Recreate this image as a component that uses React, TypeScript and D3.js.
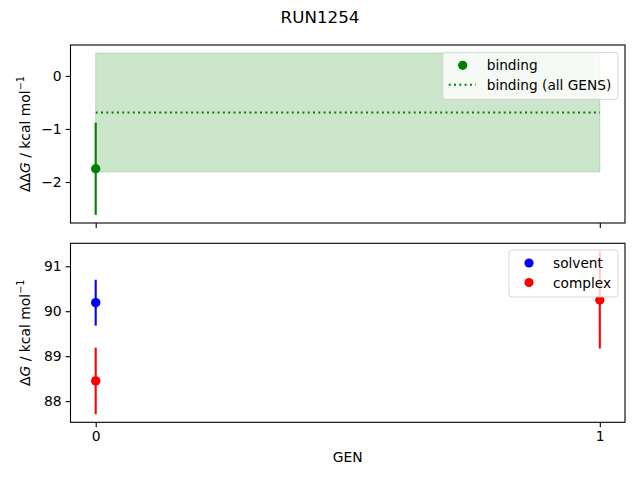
import React, { useRef, useEffect } from "react";
import * as d3 from "d3";

// 데이터
const gens = [0, 1];
const bindingGens = [0];
const bindingValues = [-1.75];
const bindingErrors = [0.87];
const bindingAllValue = -0.69;
const bindingAllError = 1.12;
const solventGens = [0];
const solventValues = [90.19];
const solventErrors = [0.51];
const complexGens = [0, 1];
const complexValues = [88.45, 90.25];
const complexErrors = [0.74, 1.08];

const FONT = "DejaVu Sans, sans-serif";
const W = 640;
const H = 480;

// matplotlib 식 5% 여백
const pad = (lo: number, hi: number): [number, number] => {
  const m = (hi - lo) * 0.05;
  return [lo - m, hi + m];
};

const App = () => {
  const ref = useRef<SVGSVGElement | null>(null);

  useEffect(() => {
    if (!ref.current) return;
    const svg = d3.select(ref.current);
    svg.selectAll("*").remove();

    const left = 70.5;
    const right = 625;
    const x = d3.scaleLinear().domain(pad(d3.min(gens)!, d3.max(gens)!)).range([left, right]);

    // 제목
    svg
      .append("text")
      .attr("x", W / 2)
      .attr("y", 17)
      .attr("text-anchor", "middle")
      .attr("dominant-baseline", "central")
      .style("font-family", FONT)
      .style("font-size", "16.7px")
      .text("RUN1254");

    const drawAxes = (
      top: number,
      bottom: number,
      domain: [number, number],
      ticks: number[],
      showX: boolean,
      prefix: string
    ) => {
      const y = d3.scaleLinear().domain(domain).range([bottom, top]);
      const g = svg.append("g");
      const yAxis = g
        .append("g")
        .attr("transform", `translate(${left},0)`)
        .call(d3.axisLeft(y).tickValues(ticks).tickSize(4.9).tickPadding(4).tickFormat(d3.format("d")));
      const xAxis = g
        .append("g")
        .attr("transform", `translate(0,${bottom})`)
        .call(
          d3
            .axisBottom(x)
            .tickValues(gens)
            .tickSize(4.9)
            .tickPadding(4)
            .tickFormat(showX ? (d3.format("d") as any) : () => "")
        );
      [yAxis, xAxis].forEach((a) => {
        a.select(".domain").remove();
        a.selectAll("line").attr("stroke", "#000").attr("stroke-width", 1.1);
        a.selectAll("text").style("font-family", FONT).style("font-size", "13.9px").attr("fill", "#000");
      });

      // y 라벨
      const lab = g
        .append("text")
        .attr("transform", `translate(25,${(top + bottom) / 2}) rotate(-90)`)
        .attr("text-anchor", "middle")
        .attr("dominant-baseline", "central")
        .style("font-family", FONT)
        .style("font-size", "13.9px");
      lab.append("tspan").text(prefix);
      lab.append("tspan").style("font-style", "italic").text("G");
      lab.append("tspan").text(" / kcal mol");
      lab.append("tspan").attr("dy", -5).style("font-size", "9.7px").text("−1");

      return { y, g, frame: () =>
        g
          .append("rect")
          .attr("x", left)
          .attr("y", top)
          .attr("width", right - left)
          .attr("height", bottom - top)
          .attr("fill", "none")
          .attr("stroke", "#000")
          .attr("stroke-width", 1.1) };
    };

    const errorPoints = (
      g: d3.Selection<SVGGElement, unknown, null, undefined>,
      y: d3.ScaleLinear<number, number>,
      xs: number[],
      vals: number[],
      errs: number[],
      color: string
    ) => {
      xs.forEach((gx, i) => {
        g.append("line")
          .attr("x1", x(gx))
          .attr("x2", x(gx))
          .attr("y1", y(vals[i] - errs[i]))
          .attr("y2", y(vals[i] + errs[i]))
          .attr("stroke", color)
          .attr("stroke-width", 2.1);
        g.append("circle").attr("cx", x(gx)).attr("cy", y(vals[i])).attr("r", 4.7).attr("fill", color);
      });
    };

    const legend = (
      g: d3.Selection<SVGGElement, unknown, null, undefined>,
      lx: number,
      ly: number,
      lw: number,
      items: { label: string; color: string; kind: "dot" | "dotted" }[]
    ) => {
      const rowH = 19.5;
      g.append("rect")
        .attr("x", lx)
        .attr("y", ly)
        .attr("width", lw)
        .attr("height", 8 + rowH * items.length)
        .attr("rx", 3)
        .attr("fill", "#fff")
        .attr("fill-opacity", 0.8)
        .attr("stroke", "#ccc")
        .attr("stroke-opacity", 0.8);
      items.forEach((it, i) => {
        const cy = ly + 13 + i * rowH;
        if (it.kind === "dot") {
          g.append("circle").attr("cx", lx + 20).attr("cy", cy).attr("r", 4.6).attr("fill", it.color);
        } else {
          g.append("line")
            .attr("x1", lx + 6)
            .attr("x2", lx + 33)
            .attr("y1", cy)
            .attr("y2", cy)
            .attr("stroke", it.color)
            .attr("stroke-width", 2)
            .attr("stroke-dasharray", "2,3.3");
        }
        g.append("text")
          .attr("x", lx + 44)
          .attr("y", cy)
          .attr("dominant-baseline", "central")
          .style("font-family", FONT)
          .style("font-size", "13.7px")
          .text(it.label);
      });
    };

    /** 위쪽: binding */
    const topLo = Math.min(d3.min(bindingValues.map((v, i) => v - bindingErrors[i]))!, bindingAllValue - bindingAllError);
    const topHi = Math.max(d3.max(bindingValues.map((v, i) => v + bindingErrors[i]))!, bindingAllValue + bindingAllError);
    const A = drawAxes(45, 223, pad(topLo, topHi), [-2, -1, 0], false, "ΔΔ");
    A.g.append("rect")
      .attr("x", x(d3.min(gens)!))
      .attr("width", x(d3.max(gens)!) - x(d3.min(gens)!))
      .attr("y", A.y(bindingAllValue + bindingAllError))
      .attr("height", A.y(bindingAllValue - bindingAllError) - A.y(bindingAllValue + bindingAllError))
      .attr("fill", "green")
      .attr("fill-opacity", 0.2)
      .attr("stroke", "green")
      .attr("stroke-opacity", 0.2);
    A.g.append("line")
      .attr("x1", x(d3.min(gens)!))
      .attr("x2", x(d3.max(gens)!))
      .attr("y1", A.y(bindingAllValue))
      .attr("y2", A.y(bindingAllValue))
      .attr("stroke", "green")
      .attr("stroke-width", 2)
      .attr("stroke-dasharray", "2,3.3");
    errorPoints(A.g, A.y, bindingGens, bindingValues, bindingErrors, "green");
    A.frame();
    legend(A.g, 442.7, 52.3, 175.3, [
      { label: "binding", color: "green", kind: "dot" },
      { label: "binding (all GENS)", color: "green", kind: "dotted" },
    ]);

    /** 아래쪽: solvent / complex */
    const allV = [...solventValues.map((v, i) => v - solventErrors[i]), ...complexValues.map((v, i) => v - complexErrors[i])];
    const allH = [...solventValues.map((v, i) => v + solventErrors[i]), ...complexValues.map((v, i) => v + complexErrors[i])];
    const B = drawAxes(243.3, 422.3, pad(d3.min(allV)!, d3.max(allH)!), [88, 89, 90, 91], true, "Δ");
    errorPoints(B.g, B.y, solventGens, solventValues, solventErrors, "blue");
    errorPoints(B.g, B.y, complexGens, complexValues, complexErrors, "red");
    B.frame();
    legend(B.g, 509, 250, 109, [
      { label: "solvent", color: "blue", kind: "dot" },
      { label: "complex", color: "red", kind: "dot" },
    ]);

    svg
      .append("text")
      .attr("x", (left + right) / 2)
      .attr("y", 457)
      .attr("text-anchor", "middle")
      .attr("dominant-baseline", "central")
      .style("font-family", FONT)
      .style("font-size", "13.9px")
      .text("GEN");
  }, []);

  return (
    <svg
      ref={ref}
      width={W}
      height={H}
      style={{ position: "absolute", left: 0, top: 0, background: "#fff", display: "block" }}
    ></svg>
  );
};

export default App;
